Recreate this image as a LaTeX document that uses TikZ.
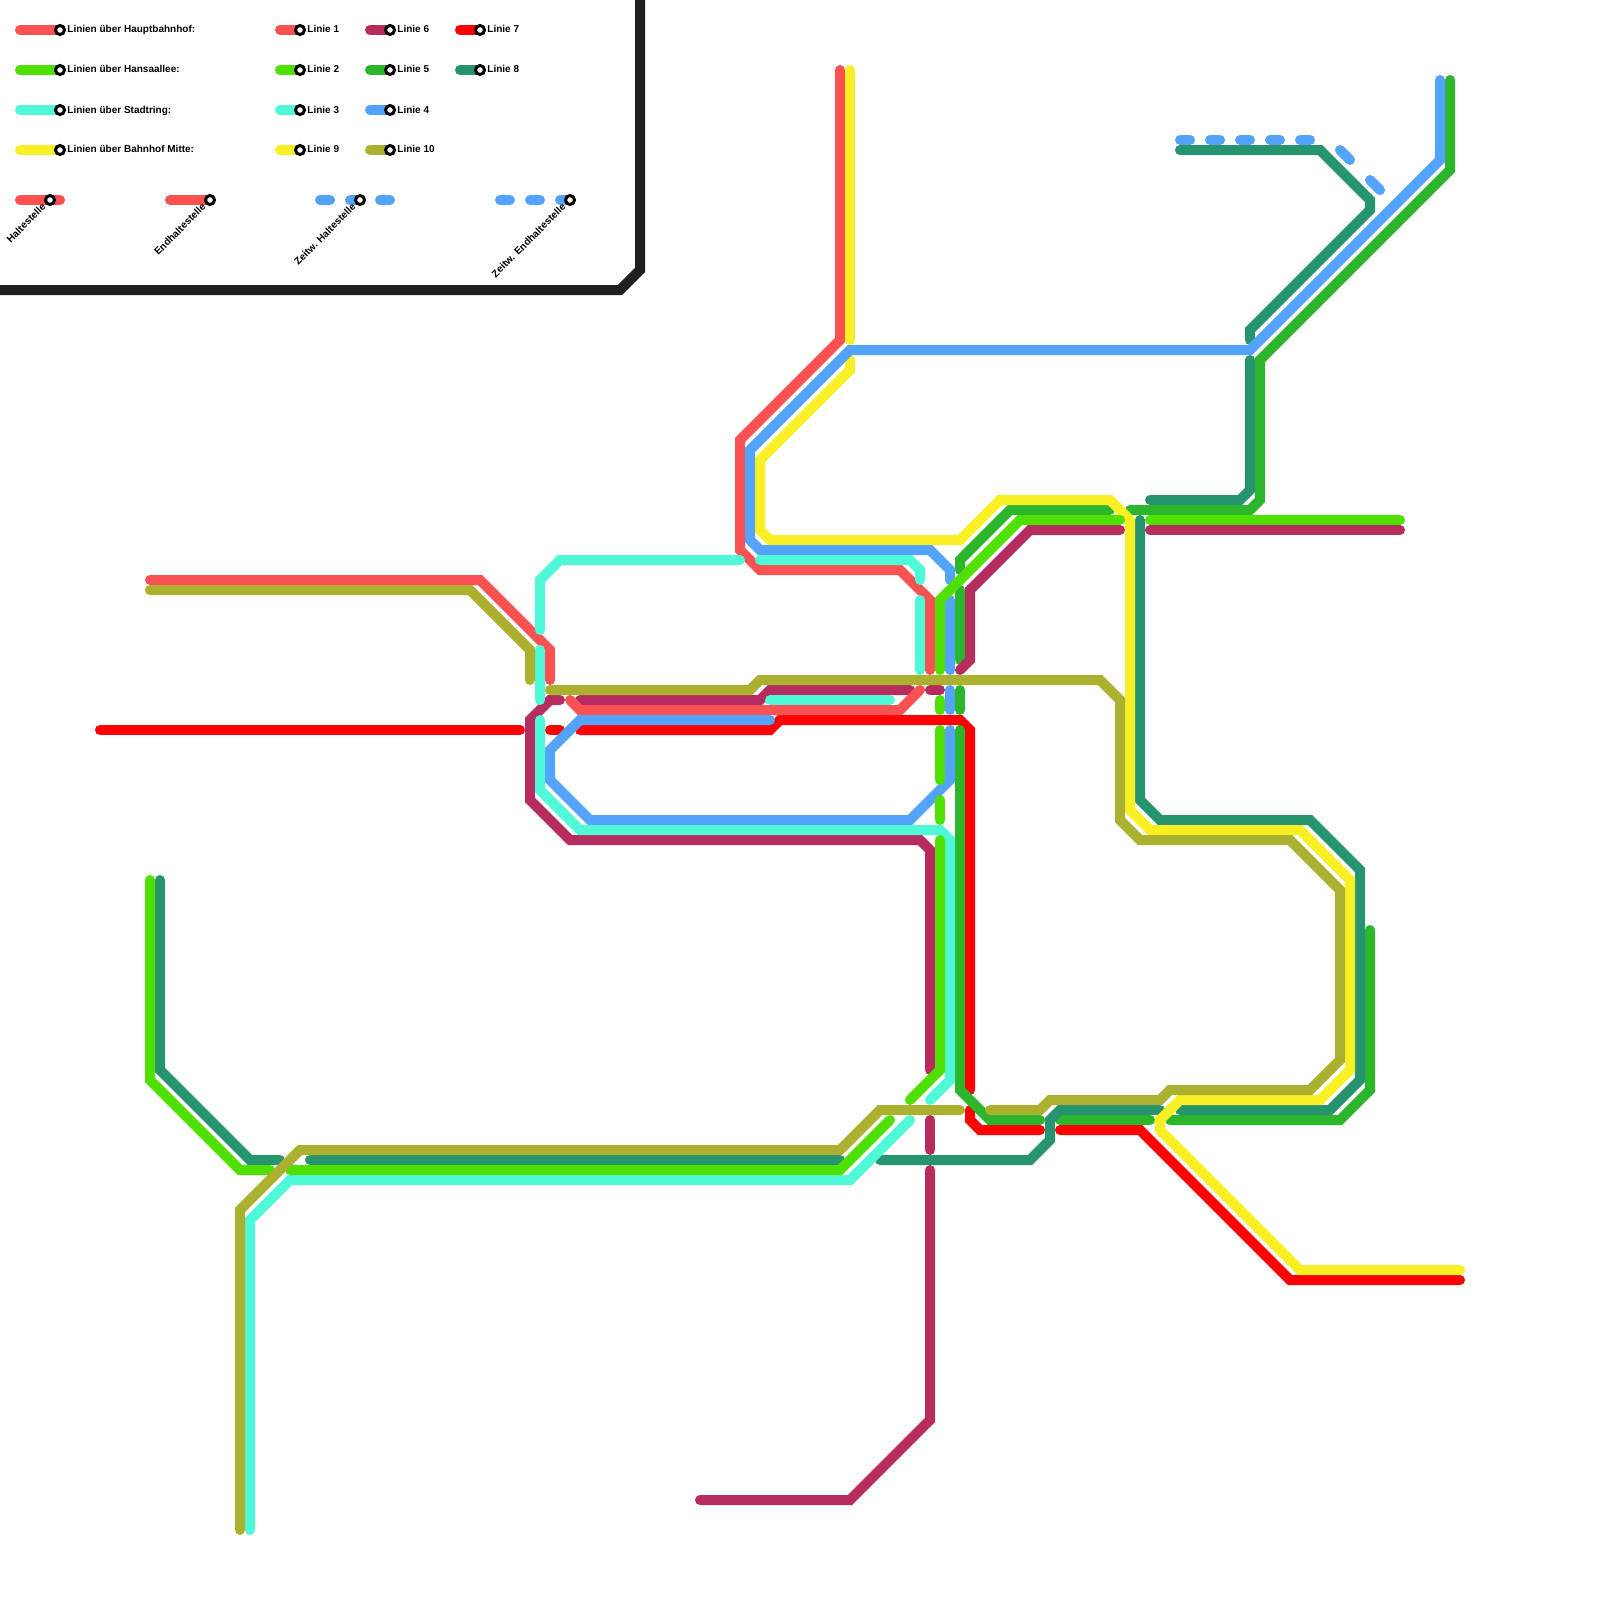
\documentclass[tikz,border=0pt]{standalone}
\usepackage{fontspec}
\setmainfont{Liberation Sans}
\definecolor{colA}{HTML}{FA5252}
\definecolor{colB}{HTML}{4FE000}
\definecolor{colC}{HTML}{4FF9D8}
\definecolor{colD}{HTML}{52A3F9}
\definecolor{colE}{HTML}{2CB62C}
\definecolor{colF}{HTML}{B62C5E}
\definecolor{colG}{HTML}{FF0000}
\definecolor{colH}{HTML}{26956F}
\definecolor{colI}{HTML}{F8F025}
\definecolor{colJ}{HTML}{ABB12E}
\tikzset{
  linie/.style={line width=5pt,line cap=round},
  halt/.style={circle,draw=black,fill=white,line width=1.5pt,inner sep=0pt,minimum size=4.5pt},
  lab/.style={anchor=base west,inner sep=0pt,font=\bfseries\fontsize{5}{6}\selectfont},
  slab/.style={lab,anchor=east,rotate=45}
}

\begin{document}
\begin{tikzpicture}[x=0.5pt,y=-0.5pt]
  \useasboundingbox (0,0) rectangle (1600,1600);
  \fill[white] (0,0) rectangle (1600,1600);

  % --- 1. Linie 7 ---
  \draw[linie,colG] (100,730)--(520,730);
  \draw[linie,colG] (550,730)--(560,730);
  \draw[linie,colG] (580,730)--(770,730)--(780,720)--(960,720)--(970,730)--(970,1090);
  \draw[linie,colG] (970,1110)--(970,1120)--(980,1130)--(1040,1130);
  \draw[linie,colG] (1060,1130)--(1140,1130)--(1290,1280)--(1460,1280);

  % --- 2. Linie 5 ---
  \draw[linie,colE] (1450,80)--(1450,170)--(1260,360)--(1260,500)--(1250,510)--(1130,510);
  \draw[linie,colE] (1110,510)--(1010,510)--(960,560)--(960,570);
  \draw[linie,colE] (960,590)--(960,660);
  \draw[linie,colE] (960,690)--(960,710);
  \draw[linie,colE] (960,730)--(960,1090)--(990,1120)--(1040,1120);
  \draw[linie,colE] (1060,1120)--(1150,1120);
  \draw[linie,colE] (1170,1120)--(1340,1120)--(1370,1090)--(1370,930);

  % --- 3. Linie 6 ---
  \draw[linie,colF] (700,1500)--(850,1500)--(930,1420)--(930,1170);
  \draw[linie,colF] (930,1120)--(930,1150);
  \draw[linie,colF] (930,1070)--(930,850)--(920,840)--(570,840)--(530,800)--(530,720)--(550,700)--(560,700);
  \draw[linie,colF] (580,700)--(760,700)--(770,690)--(910,690);
  \draw[linie,colF] (930,690)--(940,690);
  \draw[linie,colF] (960,670)--(970,660)--(970,590)--(1030,530)--(1120,530);
  \draw[linie,colF] (1150,530)--(1400,530);

  % --- 4. Linie 1 ---
  \draw[linie,colA] (150,580)--(480,580)--(550,650)--(550,680);
  \draw[linie,colA] (570,700)--(580,710)--(900,710)--(920,690);
  \draw[linie,colA] (840,70)--(840,340)--(740,440)--(740,550)--(760,570)--(900,570)--(930,600)--(930,670);

  % --- 5. Linie 8 ---
  \draw[linie,colH] (1180,150)--(1320,150)--(1370,200)--(1370,210)--(1250,330)--(1250,340);
  \draw[linie,colH] (1250,360)--(1250,490)--(1240,500)--(1150,500);
  \draw[linie,colH] (1140,520)--(1140,800)--(1160,820)--(1310,820)--(1360,870)--(1360,1080)--(1330,1110)--(1180,1110);
  \draw[linie,colH] (1160,1110)--(1060,1110)--(1050,1120)--(1050,1140)--(1030,1160)--(880,1160);
  \draw[linie,colH] (310,1160)--(840,1160);
  \draw[linie,colH] (160,880)--(160,1070)--(250,1160)--(280,1160);

  % --- 6. Linie 9 ---
  \draw[linie,colI] (850,70)--(850,340);
  \draw[linie,colI] (850,360)--(850,370)--(760,460)--(760,530)--(770,540)--(960,540)--(1000,500)--(1110,500)--(1130,520)--(1130,810)--(1150,830)--(1300,830)--(1350,880)--(1350,1070)--(1320,1100)--(1180,1100)--(1160,1120)--(1160,1130)--(1300,1270)--(1460,1270);

  % --- 7. Linie 4 ---
  \draw[linie,colD] (1440,80)--(1440,160)--(1250,350)--(850,350)--(750,450)--(750,540)--(760,550)--(930,550)--(950,570)--(950,580);
  \draw[linie,colD] (950,600)--(950,670);
  \draw[linie,colD] (950,690)--(950,710);
  \draw[linie,colD] (950,730)--(950,780)--(910,820)--(590,820)--(550,780)--(550,750)--(580,720)--(770,720);
  \foreach \xa in {1180,1210,1240,1270,1300}
    \draw[linie,colD] (\xa,140)--(\xa+10,140);
  \draw[linie,colD] (1340,150)--(1350,160);
  \draw[linie,colD] (1370,180)--(1380,190);

  % --- 8. Linie 3 ---
  \draw[linie,colC] (250,1530)--(250,1220)--(290,1180)--(850,1180)--(910,1120);
  \draw[linie,colC] (930,1100)--(950,1080)--(950,840)--(940,830)--(580,830)--(540,790)--(540,720);
  \draw[linie,colC] (540,650)--(540,700);
  \draw[linie,colC] (540,630)--(540,580)--(560,560)--(740,560);
  \draw[linie,colC] (760,560)--(910,560)--(920,570)--(920,580);
  \draw[linie,colC] (920,600)--(920,670);
  \draw[linie,colC] (770,700)--(890,700);

  % --- 9. Linie 2 ---
  \draw[linie,colB] (150,880)--(150,1080)--(240,1170)--(270,1170);
  \draw[linie,colB] (290,1170)--(840,1170)--(890,1120);
  \draw[linie,colB] (910,1100)--(940,1070)--(940,840);
  \draw[linie,colB] (940,800)--(940,820);
  \draw[linie,colB] (940,730)--(940,780);
  \draw[linie,colB] (940,700)--(940,710);
  \draw[linie,colB] (940,670)--(940,600)--(1020,520)--(1120,520);
  \draw[linie,colB] (1150,520)--(1400,520);

  % --- 10. Linie 10 ---
  \draw[linie,colJ] (150,590)--(470,590)--(530,650)--(530,680);
  \draw[linie,colJ] (550,690)--(750,690)--(760,680)--(1100,680)--(1120,700)--(1120,820)--(1140,840)--(1290,840)--(1340,890)--(1340,1060)--(1310,1090)--(1170,1090)--(1160,1100)--(1050,1100)--(1040,1110)--(990,1110);
  \draw[linie,colJ] (240,1530)--(240,1210)--(300,1150)--(840,1150)--(880,1110)--(960,1110);

  % --- 11. Legende: Rahmen ---
  \draw[line width=5pt,color=black!88] (640,-10)--(640,270)--(620,290)--(-10,290);

  % --- 12. Legende: Linien ---
  \draw[linie,colA] (20,30)--(60,30);
  \draw[linie,colB] (20,70)--(60,70);
  \draw[linie,colC] (20,110)--(60,110);
  \draw[linie,colI] (20,150)--(60,150);
  \draw[linie,colA] (280,30)--(300,30);
  \draw[linie,colB] (280,70)--(300,70);
  \draw[linie,colC] (280,110)--(300,110);
  \draw[linie,colI] (280,150)--(300,150);
  \draw[linie,colF] (370,30)--(390,30);
  \draw[linie,colE] (370,70)--(390,70);
  \draw[linie,colD] (370,110)--(390,110);
  \draw[linie,colJ] (370,150)--(390,150);
  \draw[linie,colG] (460,30)--(480,30);
  \draw[linie,colH] (460,70)--(480,70);
  \draw[linie,colA] (20,200)--(60,200);
  \draw[linie,colA] (170,200)--(210,200);
  \foreach \xa in {320,350,380,500,530,560}
    \draw[linie,colD] (\xa,200)--(\xa+10,200);

  \node[halt] (haupt) at (60,30) {};
  \node[halt] (hansa) at (60,70) {};
  \node[halt] (stadt) at (60,110) {};
  \node[halt] (mitte) at (60,150) {};
  \node[halt] (l1) at (300,30) {};
  \node[halt] (l2) at (300,70) {};
  \node[halt] (l3) at (300,110) {};
  \node[halt] (l9) at (300,150) {};
  \node[halt] (l6) at (390,30) {};
  \node[halt] (l5) at (390,70) {};
  \node[halt] (l4) at (390,110) {};
  \node[halt] (l10) at (390,150) {};
  \node[halt] (l7) at (480,30) {};
  \node[halt] (l8) at (480,70) {};
  \node[halt] (hs) at (50,200) {};
  \node[halt] (ehs) at (210,200) {};
  \node[halt] (zhs) at (360,200) {};
  \node[halt] (zehs) at (570,200) {};

  \node[lab] (thaupt) at (67,33) {Linien über Hauptbahnhof:};
  \node[lab] (thansa) at (67,73) {Linien über Hansaallee:};
  \node[lab] (tstadt) at (67,113) {Linien über Stadtring:};
  \node[lab] (tmitte) at (67,153) {Linien über Bahnhof Mitte:};
  \node[lab] (tl1) at (307,33) {Linie 1};
  \node[lab] (tl2) at (307,73) {Linie 2};
  \node[lab] (tl3) at (307,113) {Linie 3};
  \node[lab] (tl9) at (307,153) {Linie 9};
  \node[lab] (tl6) at (397,33) {Linie 6};
  \node[lab] (tl5) at (397,73) {Linie 5};
  \node[lab] (tl4) at (397,113) {Linie 4};
  \node[lab] (tl10) at (397,153) {Linie 10};
  \node[lab] (tl7) at (487,33) {Linie 7};
  \node[lab] (tl8) at (487,73) {Linie 8};
  \node[slab] (ths) at (44,205) {Haltestelle};
  \node[slab] (tehs) at (204,205) {Endhaltestelle};
  \node[slab] (tzhs) at (354,205) {Zeitw. Haltestelle};
  \node[slab] (tzehs) at (564,205) {Zeitw. Endhaltestelle};
\end{tikzpicture}
\end{document}
